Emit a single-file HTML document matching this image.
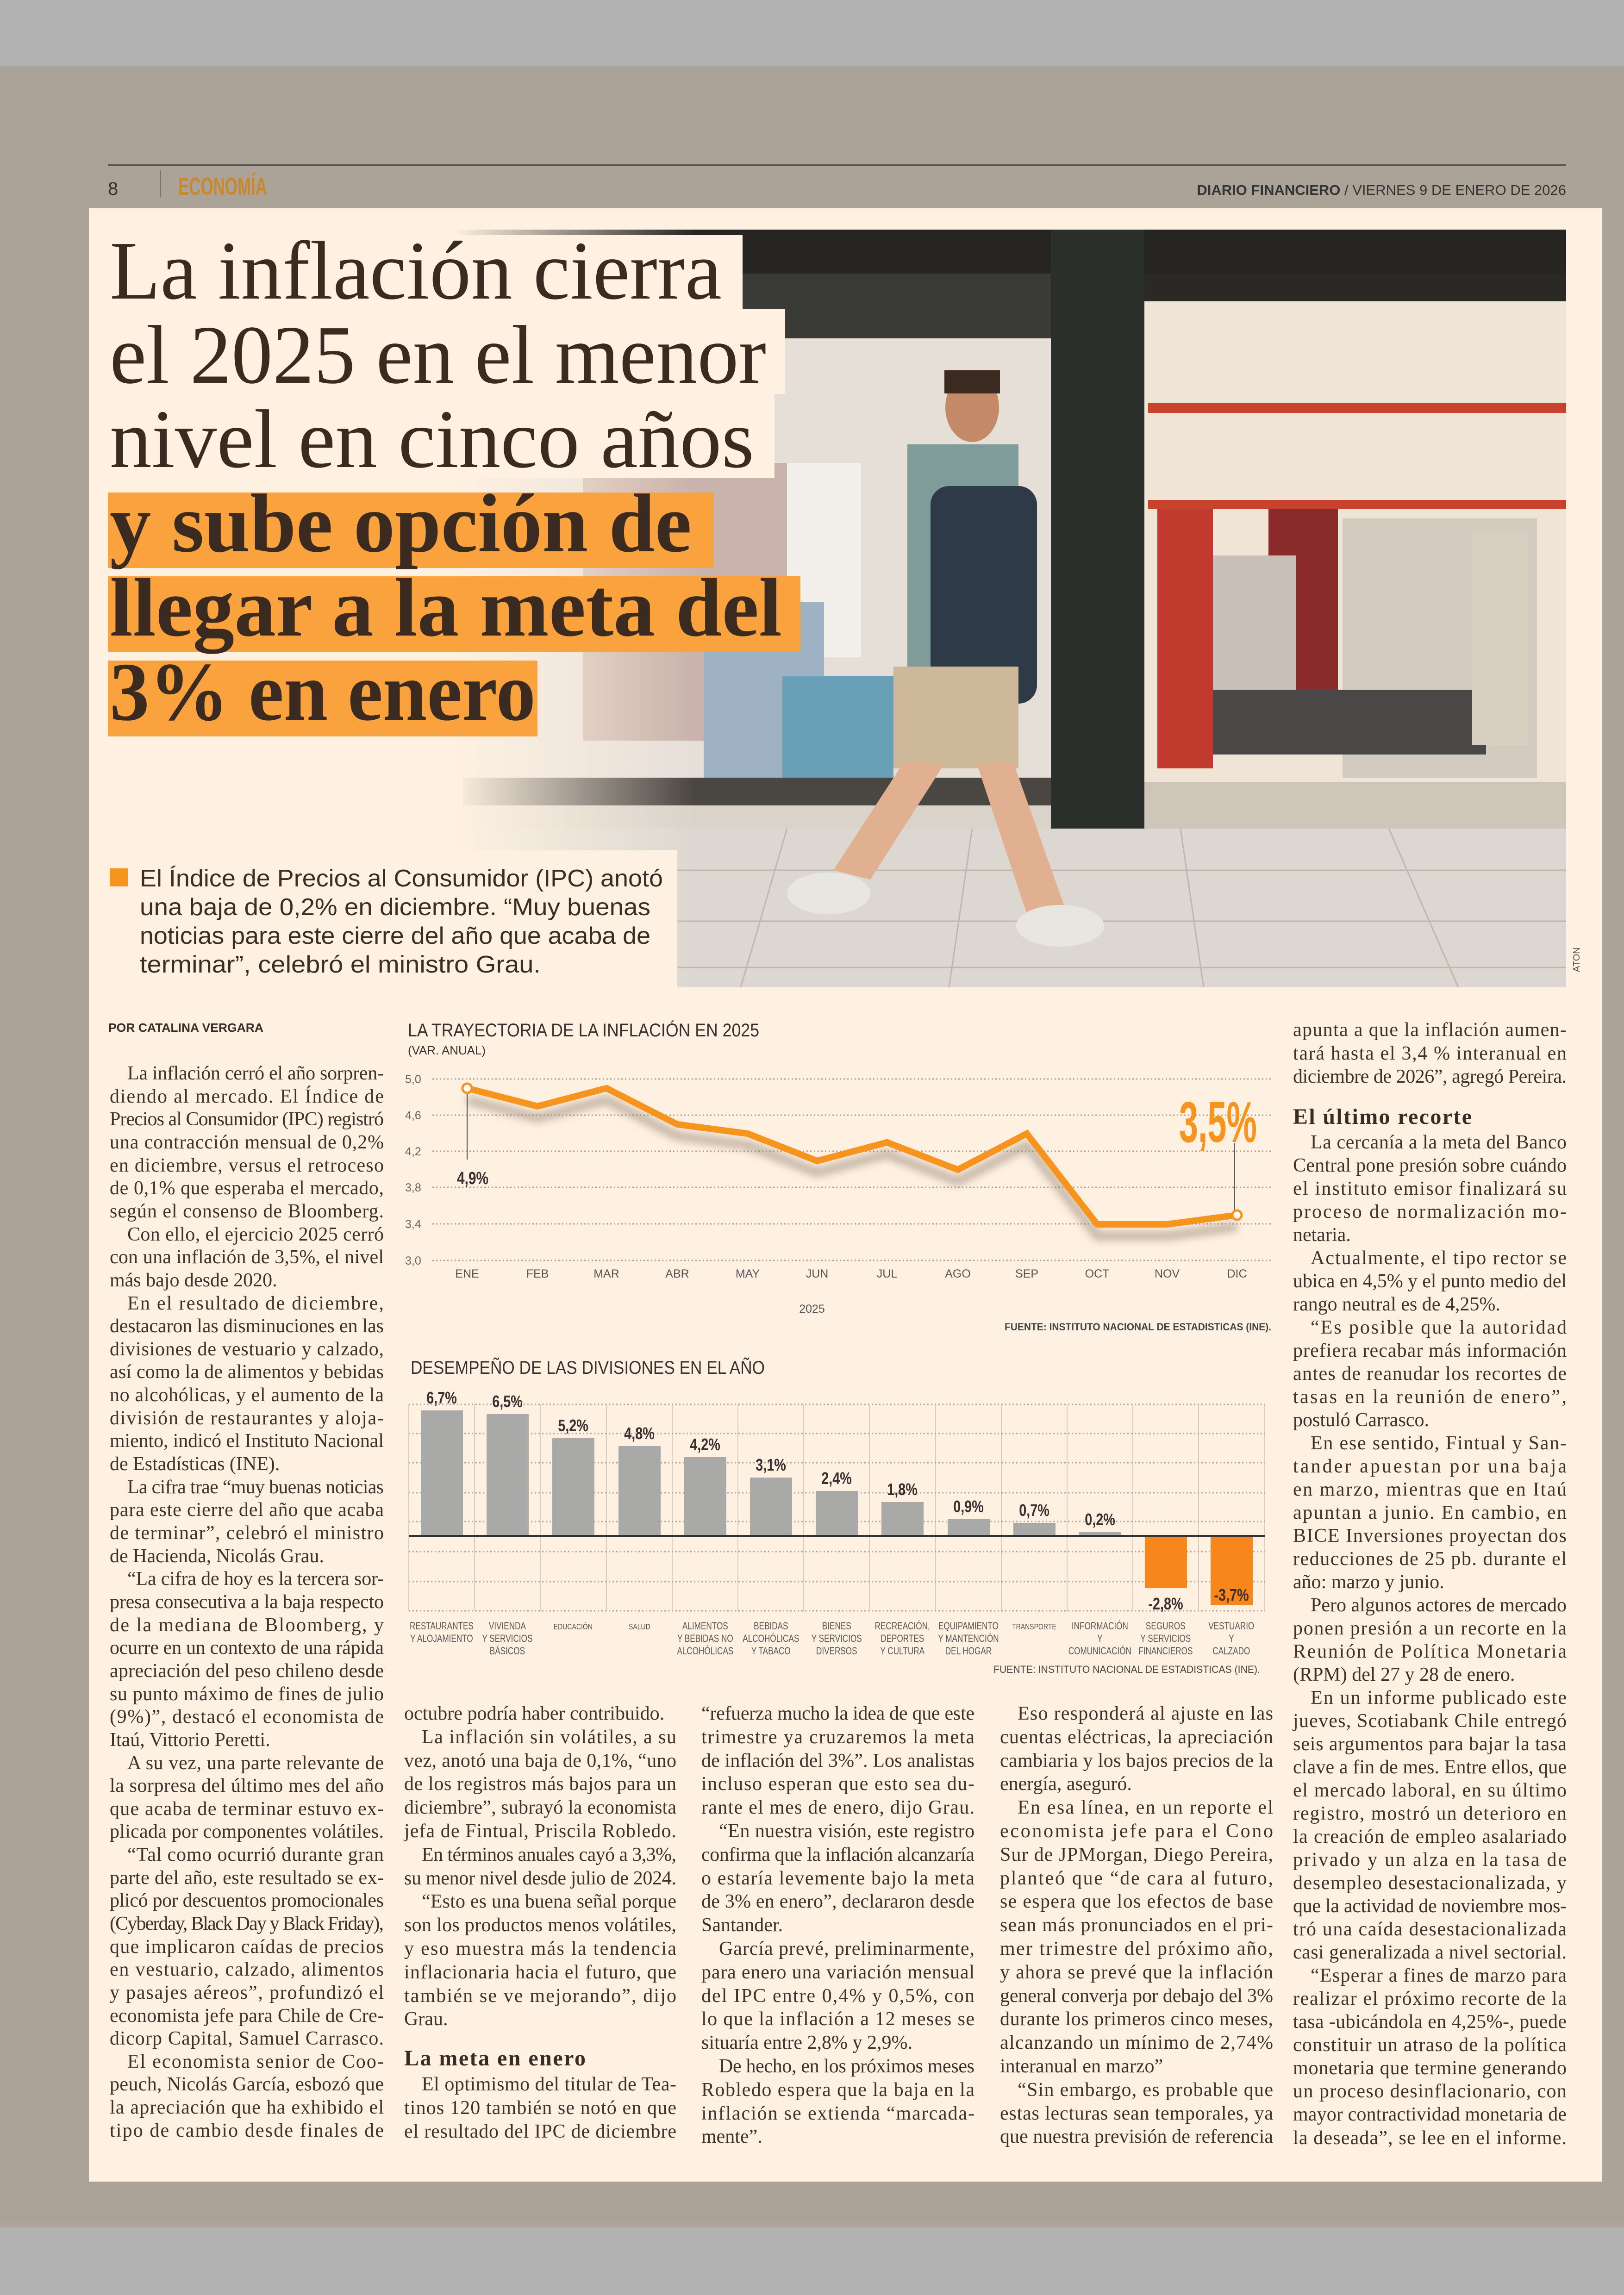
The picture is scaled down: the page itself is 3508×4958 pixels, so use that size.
<!DOCTYPE html>
<html><head><meta charset="utf-8">
<style>
html,body{margin:0;padding:0;background:#b3b3b3;}
svg{display:block}
.b{font-family:"Liberation Serif",serif;font-size:42px;fill:#3d322c}
.h{font-family:"Liberation Serif",serif;font-size:48px;font-weight:bold;fill:#3a2c24}
.n{font-family:"Liberation Sans Narrow","Liberation Sans",sans-serif}
</style></head><body>
<svg width="3508" height="4958" viewBox="0 0 3508 4958" xmlns="http://www.w3.org/2000/svg">
<defs>
<linearGradient id="fadeL" x1="0" x2="1" y1="0" y2="0">
<stop offset="0" stop-color="#fef1e2" stop-opacity="1"/>
<stop offset="1" stop-color="#fef1e2" stop-opacity="0"/>
</linearGradient>
<filter id="blur" x="-10%" y="-30%" width="120%" height="160%"><feGaussianBlur stdDeviation="9"/></filter>
</defs>
<rect x="0" y="0" width="3508" height="4958" fill="#b3b3b3"/>
<rect x="0" y="142" width="3508" height="4670" fill="#aca398"/>
<rect x="0" y="4800" width="3508" height="12" fill="#b0a2a0"/>
<rect x="192" y="449" width="3269" height="4264" fill="#fef1e2"/>

<!-- header -->
<rect x="233" y="355" width="3150" height="4" fill="#5a5550"/>
<text x="233" y="421" class="n" font-size="40" fill="#333">8</text>
<rect x="346" y="368" width="2" height="58" fill="#777"/>
<text x="385" y="421" class="n" font-size="54" font-weight="bold" fill="#c8882e" textLength="192" lengthAdjust="spacingAndGlyphs">ECONOMÍA</text>
<text x="3383" y="421" class="n" font-size="31" fill="#333" text-anchor="end"><tspan font-weight="bold">DIARIO FINANCIERO</tspan> / VIERNES 9 DE ENERO DE 2026</text>

<!-- photo -->
<g>
<rect x="980" y="496" width="2403" height="1637" fill="#d9d3ca"/>
<rect x="980" y="496" width="2403" height="95" fill="#262522"/>
<rect x="1000" y="591" width="1270" height="1110" fill="#e6dfd8"/>
<rect x="1000" y="591" width="1270" height="140" fill="#3a3a36"/>
<rect x="1260" y="1000" width="500" height="600" fill="#c9b3ac"/>
<rect x="1700" y="1000" width="160" height="420" fill="#f2efea"/>
<rect x="1520" y="1300" width="260" height="380" fill="#9fb2c4"/>
<rect x="1690" y="1460" width="240" height="240" fill="#6a9fb8"/>
<rect x="1000" y="1680" width="1270" height="60" fill="#4a4642"/>
<rect x="2270" y="496" width="202" height="1310" fill="#2b2f2b"/>
<rect x="2472" y="591" width="911" height="1200" fill="#efe4d6"/>
<rect x="2472" y="591" width="911" height="60" fill="#2a2926"/>
<rect x="2480" y="870" width="903" height="22" fill="#c8432d"/>
<rect x="2480" y="1080" width="903" height="20" fill="#c8432d"/>
<rect x="2740" y="1100" width="150" height="500" fill="#8a2a2a"/>
<rect x="2900" y="1120" width="420" height="560" fill="#d4cbc0"/>
<rect x="2520" y="1200" width="280" height="300" fill="#c8c0b8"/>
<rect x="2560" y="1490" width="650" height="140" fill="#4a4846"/>
<rect x="2500" y="1100" width="120" height="560" fill="#c23a2e"/>
<rect x="3180" y="1150" width="120" height="460" fill="#d8cfc0"/>
<rect x="2472" y="1690" width="911" height="110" fill="#cfc6ba"/>
<rect x="980" y="1790" width="2403" height="343" fill="#dcd8d1"/>
<g stroke="#bdb7ae" stroke-width="3">
<line x1="980" y1="1880" x2="3383" y2="1880"/><line x1="980" y1="1990" x2="3383" y2="1990"/><line x1="980" y1="2090" x2="3383" y2="2090"/>
<line x1="1700" y1="1790" x2="1600" y2="2133"/><line x1="2100" y1="1790" x2="2050" y2="2133"/><line x1="2550" y1="1790" x2="2600" y2="2133"/><line x1="3000" y1="1790" x2="3150" y2="2133"/>
</g>
<ellipse cx="2100" cy="880" rx="58" ry="75" fill="#c48a68"/>
<rect x="2040" y="800" width="120" height="50" fill="#3a2a20"/>
<rect x="1960" y="960" width="240" height="500" fill="#7f9c9a"/>
<rect x="2010" y="1050" width="230" height="470" rx="40" fill="#2e3a48"/>
<rect x="1930" y="1440" width="270" height="220" fill="#cdb99a"/>
<polygon points="1950,1650 2040,1650 1880,1900 1800,1880" fill="#e0b090"/>
<polygon points="2110,1650 2190,1650 2300,1960 2220,1980" fill="#e0b090"/>
<ellipse cx="1790" cy="1930" rx="90" ry="45" fill="#e8e6e0"/>
<ellipse cx="2290" cy="2000" rx="95" ry="45" fill="#e8e6e0"/>
<rect x="980" y="496" width="520" height="1637" fill="url(#fadeL)"/>
<text transform="translate(3412,2100) rotate(-90)" class="n" font-size="20" fill="#555">ATON</text>
</g>

<!-- headline -->
<rect x="192" y="508" width="1412" height="159" fill="#fef1e2"/>
<rect x="192" y="667" width="1504" height="184" fill="#fef1e2"/>
<rect x="192" y="851" width="1481" height="182" fill="#fef1e2"/>
<rect x="192" y="1033" width="800" height="31" fill="#fef1e2"/>
<rect x="233" y="1064" width="1308" height="163" fill="#f9a23e"/>
<rect x="233" y="1245" width="1496" height="164" fill="#f9a23e"/>
<rect x="233" y="1427" width="928" height="164" fill="#f9a23e"/>
<g font-family="Liberation Serif,serif" font-size="180" fill="#3a2a20">
<text x="237" y="645" textLength="1322" lengthAdjust="spacingAndGlyphs">La inflación cierra</text>
<text x="237" y="827" textLength="1418" lengthAdjust="spacingAndGlyphs">el 2025 en el menor</text>
<text x="237" y="1009" textLength="1392" lengthAdjust="spacingAndGlyphs">nivel en cinco años</text>
<g font-weight="bold">
<text x="237" y="1191" textLength="1257" lengthAdjust="spacingAndGlyphs">y sube opción de</text>
<text x="237" y="1373" textLength="1452" lengthAdjust="spacingAndGlyphs">llegar a la meta del</text>
<text x="237" y="1555" textLength="920" lengthAdjust="spacingAndGlyphs">3% en enero</text>
</g></g>

<!-- subhead -->
<rect x="192" y="1837" width="1271" height="296" fill="#fef1e2"/>
<rect x="237" y="1876" width="39" height="39" fill="#f7941d"/>
<g class="n" font-size="52" fill="#3a2d26">
<text x="302" y="1915" textLength="1130" lengthAdjust="spacingAndGlyphs">El Índice de Precios al Consumidor (IPC) anotó</text>
<text x="302" y="1977" textLength="1103" lengthAdjust="spacingAndGlyphs">una baja de 0,2% en diciembre. “Muy buenas</text>
<text x="302" y="2039" textLength="1103" lengthAdjust="spacingAndGlyphs">noticias para este cierre del año que acaba de</text>
<text x="302" y="2101" textLength="866" lengthAdjust="spacingAndGlyphs">terminar”, celebró el ministro Grau.</text>
</g>

<text x="234" y="2229" class="n" font-size="26" font-weight="bold" fill="#3a2d26" textLength="335" lengthAdjust="spacingAndGlyphs">POR CATALINA VERGARA</text>

<!-- column 1 -->
<g class="b">
<text x="275" y="2332" textLength="554">La inflación cerró el año sorpren-</text>
<text x="237" y="2382" textLength="592">diendo al mercado. El Índice de</text>
<text x="237" y="2431" textLength="592">Precios al Consumidor (IPC) registró</text>
<text x="237" y="2481" textLength="592">una contracción mensual de 0,2%</text>
<text x="237" y="2531" textLength="592">en diciembre, versus el retroceso</text>
<text x="237" y="2580" textLength="592">de 0,1% que esperaba el mercado,</text>
<text x="237" y="2630" textLength="592">según el consenso de Bloomberg.</text>
<text x="275" y="2680" textLength="554">Con ello, el ejercicio 2025 cerró</text>
<text x="237" y="2729" textLength="592">con una inflación de 3,5%, el nivel</text>
<text x="237" y="2779">más bajo desde 2020.</text>
<text x="275" y="2829" textLength="554">En el resultado de diciembre,</text>
<text x="237" y="2878" textLength="592">destacaron las disminuciones en las</text>
<text x="237" y="2928" textLength="592">divisiones de vestuario y calzado,</text>
<text x="237" y="2977" textLength="592">así como la de alimentos y bebidas</text>
<text x="237" y="3027" textLength="592">no alcohólicas, y el aumento de la</text>
<text x="237" y="3077" textLength="592">división de restaurantes y aloja-</text>
<text x="237" y="3126" textLength="592">miento, indicó el Instituto Nacional</text>
<text x="237" y="3176">de Estadísticas (INE).</text>
<text x="275" y="3226" textLength="554">La cifra trae “muy buenas noticias</text>
<text x="237" y="3275" textLength="592">para este cierre del año que acaba</text>
<text x="237" y="3325" textLength="592">de terminar”, celebró el ministro</text>
<text x="237" y="3375">de Hacienda, Nicolás Grau.</text>
<text x="275" y="3424" textLength="554">“La cifra de hoy es la tercera sor-</text>
<text x="237" y="3474" textLength="592">presa consecutiva a la baja respecto</text>
<text x="237" y="3524" textLength="592">de la mediana de Bloomberg, y</text>
<text x="237" y="3573" textLength="592">ocurre en un contexto de una rápida</text>
<text x="237" y="3623" textLength="592">apreciación del peso chileno desde</text>
<text x="237" y="3673" textLength="592">su punto máximo de fines de julio</text>
<text x="237" y="3722" textLength="592">(9%)”, destacó el economista de</text>
<text x="237" y="3772">Itaú, Vittorio Peretti.</text>
<text x="275" y="3822" textLength="554">A su vez, una parte relevante de</text>
<text x="237" y="3871" textLength="592">la sorpresa del último mes del año</text>
<text x="237" y="3921" textLength="592">que acaba de terminar estuvo ex-</text>
<text x="237" y="3970" textLength="592">plicada por componentes volátiles.</text>
<text x="275" y="4020" textLength="554">“Tal como ocurrió durante gran</text>
<text x="237" y="4070" textLength="592">parte del año, este resultado se ex-</text>
<text x="237" y="4119" textLength="592">plicó por descuentos promocionales</text>
<text x="237" y="4169" textLength="592">(Cyberday, Black Day y Black Friday),</text>
<text x="237" y="4219" textLength="592">que implicaron caídas de precios</text>
<text x="237" y="4268" textLength="592">en vestuario, calzado, alimentos</text>
<text x="237" y="4318" textLength="592">y pasajes aéreos”, profundizó el</text>
<text x="237" y="4368" textLength="592">economista jefe para Chile de Cre-</text>
<text x="237" y="4417" textLength="592">dicorp Capital, Samuel Carrasco.</text>
<text x="275" y="4467" textLength="554">El economista senior de Coo-</text>
<text x="237" y="4516" textLength="592">peuch, Nicolás García, esbozó que</text>
<text x="237" y="4566" textLength="592">la apreciación que ha exhibido el</text>
<text x="237" y="4616" textLength="592">tipo de cambio desde finales de</text>
</g>

<!-- column 2 -->
<g class="b">
<text x="873" y="3715">octubre podría haber contribuido.</text>
<text x="911" y="3766" textLength="550">La inflación sin volátiles, a su</text>
<text x="873" y="3817" textLength="588">vez, anotó una baja de 0,1%, “uno</text>
<text x="873" y="3867" textLength="588">de los registros más bajos para un</text>
<text x="873" y="3918" textLength="588">diciembre”, subrayó la economista</text>
<text x="873" y="3969" textLength="588">jefa de Fintual, Priscila Robledo.</text>
<text x="911" y="4020" textLength="550">En términos anuales cayó a 3,3%,</text>
<text x="873" y="4071" textLength="588">su menor nivel desde julio de 2024.</text>
<text x="911" y="4121" textLength="550">“Esto es una buena señal porque</text>
<text x="873" y="4172" textLength="588">son los productos menos volátiles,</text>
<text x="873" y="4223" textLength="588">y eso muestra más la tendencia</text>
<text x="873" y="4274" textLength="588">inflacionaria hacia el futuro, que</text>
<text x="873" y="4325" textLength="588">también se ve mejorando”, dijo</text>
<text x="873" y="4375">Grau.</text>
<text x="873" y="4462" class="h" textLength="392">La meta en enero</text>
<text x="911" y="4516" textLength="550">El optimismo del titular de Tea-</text>
<text x="873" y="4567" textLength="588">tinos 120 también se notó en que</text>
<text x="873" y="4618" textLength="588">el resultado del IPC de diciembre</text>
</g>

<!-- column 3 -->
<g class="b">
<text x="1515" y="3715" textLength="590">“refuerza mucho la idea de que este</text>
<text x="1515" y="3766" textLength="590">trimestre ya cruzaremos la meta</text>
<text x="1515" y="3817" textLength="590">de inflación del 3%”. Los analistas</text>
<text x="1515" y="3867" textLength="590">incluso esperan que esto sea du-</text>
<text x="1515" y="3918" textLength="590">rante el mes de enero, dijo Grau.</text>
<text x="1553" y="3969" textLength="552">“En nuestra visión, este registro</text>
<text x="1515" y="4020" textLength="590">confirma que la inflación alcanzaría</text>
<text x="1515" y="4071" textLength="590">o estaría levemente bajo la meta</text>
<text x="1515" y="4121" textLength="590">de 3% en enero”, declararon desde</text>
<text x="1515" y="4172">Santander.</text>
<text x="1553" y="4223" textLength="552">García prevé, preliminarmente,</text>
<text x="1515" y="4274" textLength="590">para enero una variación mensual</text>
<text x="1515" y="4325" textLength="590">del IPC entre 0,4% y 0,5%, con</text>
<text x="1515" y="4375" textLength="590">lo que la inflación a 12 meses se</text>
<text x="1515" y="4426">situaría entre 2,8% y 2,9%.</text>
<text x="1553" y="4477" textLength="552">De hecho, en los próximos meses</text>
<text x="1515" y="4528" textLength="590">Robledo espera que la baja en la</text>
<text x="1515" y="4579" textLength="590">inflación se extienda “marcada-</text>
<text x="1515" y="4629">mente”.</text>
</g>

<!-- column 4 -->
<g class="b">
<text x="2198" y="3715" textLength="552">Eso responderá al ajuste en las</text>
<text x="2160" y="3766" textLength="590">cuentas eléctricas, la apreciación</text>
<text x="2160" y="3817" textLength="590">cambiaria y los bajos precios de la</text>
<text x="2160" y="3867">energía, aseguró.</text>
<text x="2198" y="3918" textLength="552">En esa línea, en un reporte el</text>
<text x="2160" y="3969" textLength="590">economista jefe para el Cono</text>
<text x="2160" y="4020" textLength="590">Sur de JPMorgan, Diego Pereira,</text>
<text x="2160" y="4071" textLength="590">planteó que “de cara al futuro,</text>
<text x="2160" y="4121" textLength="590">se espera que los efectos de base</text>
<text x="2160" y="4172" textLength="590">sean más pronunciados en el pri-</text>
<text x="2160" y="4223" textLength="590">mer trimestre del próximo año,</text>
<text x="2160" y="4274" textLength="590">y ahora se prevé que la inflación</text>
<text x="2160" y="4325" textLength="590">general converja por debajo del 3%</text>
<text x="2160" y="4375" textLength="590">durante los primeros cinco meses,</text>
<text x="2160" y="4426" textLength="590">alcanzando un mínimo de 2,74%</text>
<text x="2160" y="4477">interanual en marzo”</text>
<text x="2198" y="4528" textLength="552">“Sin embargo, es probable que</text>
<text x="2160" y="4579" textLength="590">estas lecturas sean temporales, ya</text>
<text x="2160" y="4629" textLength="590">que nuestra previsión de referencia</text>
</g>

<!-- column 5 -->
<g class="b">
<text x="2793" y="2238" textLength="591">apunta a que la inflación aumen-</text>
<text x="2793" y="2289" textLength="591">tará hasta el 3,4 % interanual en</text>
<text x="2793" y="2339" textLength="591">diciembre de 2026”, agregó Pereira.</text>
<text x="2793" y="2428" class="h" textLength="386">El último recorte</text>
<text x="2831" y="2481" textLength="553">La cercanía a la meta del Banco</text>
<text x="2793" y="2531" textLength="591">Central pone presión sobre cuándo</text>
<text x="2793" y="2581" textLength="591">el instituto emisor finalizará su</text>
<text x="2793" y="2631" textLength="591">proceso de normalización mo-</text>
<text x="2793" y="2681">netaria.</text>
<text x="2831" y="2731" textLength="553">Actualmente, el tipo rector se</text>
<text x="2793" y="2781" textLength="591">ubica en 4,5% y el punto medio del</text>
<text x="2793" y="2831">rango neutral es de 4,25%.</text>
<text x="2831" y="2881" textLength="553">“Es posible que la autoridad</text>
<text x="2793" y="2931" textLength="591">prefiera recabar más información</text>
<text x="2793" y="2981" textLength="591">antes de reanudar los recortes de</text>
<text x="2793" y="3031" textLength="591">tasas en la reunión de enero”,</text>
<text x="2793" y="3081">postuló Carrasco.</text>
<text x="2831" y="3131" textLength="553">En ese sentido, Fintual y San-</text>
<text x="2793" y="3181" textLength="591">tander apuestan por una baja</text>
<text x="2793" y="3231" textLength="591">en marzo, mientras que en Itaú</text>
<text x="2793" y="3281" textLength="591">apuntan a junio. En cambio, en</text>
<text x="2793" y="3331" textLength="591">BICE Inversiones proyectan dos</text>
<text x="2793" y="3381" textLength="591">reducciones de 25 pb. durante el</text>
<text x="2793" y="3431">año: marzo y junio.</text>
<text x="2831" y="3481" textLength="553">Pero algunos actores de mercado</text>
<text x="2793" y="3531" textLength="591">ponen presión a un recorte en la</text>
<text x="2793" y="3581" textLength="591">Reunión de Política Monetaria</text>
<text x="2793" y="3631">(RPM) del 27 y 28 de enero.</text>
<text x="2831" y="3681" textLength="553">En un informe publicado este</text>
<text x="2793" y="3731" textLength="591">jueves, Scotiabank Chile entregó</text>
<text x="2793" y="3781" textLength="591">seis argumentos para bajar la tasa</text>
<text x="2793" y="3831" textLength="591">clave a fin de mes. Entre ellos, que</text>
<text x="2793" y="3881" textLength="591">el mercado laboral, en su último</text>
<text x="2793" y="3931" textLength="591">registro, mostró un deterioro en</text>
<text x="2793" y="3981" textLength="591">la creación de empleo asalariado</text>
<text x="2793" y="4031" textLength="591">privado y un alza en la tasa de</text>
<text x="2793" y="4081" textLength="591">desempleo desestacionalizada, y</text>
<text x="2793" y="4131" textLength="591">que la actividad de noviembre mos-</text>
<text x="2793" y="4181" textLength="591">tró una caída desestacionalizada</text>
<text x="2793" y="4231" textLength="591">casi generalizada a nivel sectorial.</text>
<text x="2831" y="4281" textLength="553">“Esperar a fines de marzo para</text>
<text x="2793" y="4331" textLength="591">realizar el próximo recorte de la</text>
<text x="2793" y="4381" textLength="591">tasa -ubicándola en 4,25%-, puede</text>
<text x="2793" y="4431" textLength="591">constituir un atraso de la política</text>
<text x="2793" y="4481" textLength="591">monetaria que termine generando</text>
<text x="2793" y="4531" textLength="591">un proceso desinflacionario, con</text>
<text x="2793" y="4581" textLength="591">mayor contractividad monetaria de</text>
<text x="2793" y="4632" textLength="591">la deseada”, se lee en el informe.</text>
</g>

<!-- chart 1 -->
<g class="n">
<text x="881" y="2239" font-size="40" fill="#3a3030" textLength="759" lengthAdjust="spacingAndGlyphs">LA TRAYECTORIA DE LA INFLACIÓN EN 2025</text>
<text x="881" y="2278" font-size="26" fill="#3a3030" textLength="168" lengthAdjust="spacingAndGlyphs">(VAR. ANUAL)</text>
<g stroke="#a9a198" stroke-width="3" stroke-dasharray="3,5">
<line x1="934" y1="2331" x2="2750" y2="2331"/><line x1="934" y1="2409" x2="2750" y2="2409"/>
<line x1="934" y1="2487" x2="2750" y2="2487"/><line x1="934" y1="2565" x2="2750" y2="2565"/>
<line x1="934" y1="2644" x2="2750" y2="2644"/><line x1="934" y1="2723" x2="2750" y2="2723"/>
</g>
<g font-size="25" fill="#666">
<text x="875" y="2340">5,0</text><text x="875" y="2418">4,6</text><text x="875" y="2496">4,2</text>
<text x="875" y="2574">3,8</text><text x="875" y="2653">3,4</text><text x="875" y="2732">3,0</text>
</g>
<g font-size="25" fill="#555" text-anchor="middle">
<text x="1009" y="2760">ENE</text><text x="1161" y="2760">FEB</text><text x="1310" y="2760">MAR</text>
<text x="1463" y="2760">ABR</text><text x="1615" y="2760">MAY</text><text x="1765" y="2760">JUN</text>
<text x="1916" y="2760">JUL</text><text x="2069" y="2760">AGO</text><text x="2218" y="2760">SEP</text>
<text x="2370" y="2760">OCT</text><text x="2521" y="2760">NOV</text><text x="2672" y="2760">DIC</text>
<text x="1754" y="2836">2025</text>
</g>
<polyline points="1009,2376 1161,2415 1310,2376 1463,2454 1615,2474 1765,2533 1916,2493 2069,2552 2218,2474 2370,2670 2521,2670 2672,2650" fill="none" stroke="#8a7a6a" stroke-opacity="0.55" stroke-width="18" filter="url(#blur)"/>
<polyline points="1009,2351 1161,2390 1310,2351 1463,2429 1615,2449 1765,2508 1916,2468 2069,2527 2218,2449 2370,2645 2521,2645 2672,2625" fill="none" stroke="#f7941d" stroke-width="14" stroke-linejoin="miter"/>
<line x1="1009" y1="2360" x2="1009" y2="2505" stroke="#444" stroke-width="2"/>
<line x1="2666" y1="2469" x2="2666" y2="2615" stroke="#444" stroke-width="2"/>
<circle cx="1009" cy="2351" r="10" fill="#fff" stroke="#f7941d" stroke-width="5"/>
<circle cx="2672" cy="2625" r="10" fill="#fff" stroke="#f7941d" stroke-width="5"/>
<text x="987" y="2558" font-size="38" font-weight="bold" fill="#3a3030" textLength="68" lengthAdjust="spacingAndGlyphs">4,9%</text>
<text x="2547" y="2467" font-size="124" font-weight="bold" fill="#f7941d" textLength="168" lengthAdjust="spacingAndGlyphs">3,5%</text>
<text x="2746" y="2874" font-size="22" font-weight="bold" fill="#444" text-anchor="end" textLength="576" lengthAdjust="spacingAndGlyphs">FUENTE: INSTITUTO NACIONAL DE ESTADISTICAS (INE).</text>
</g>

<!-- chart 2 -->
<g class="n">
<text x="887" y="2968" font-size="40" fill="#3a3030" textLength="765" lengthAdjust="spacingAndGlyphs">DESEMPEÑO DE LAS DIVISIONES EN EL AÑO</text>
<g stroke="#d6cdc2" stroke-width="2">
<line x1="883" y1="3034" x2="883" y2="3480"/><line x1="1025" y1="3034" x2="1025" y2="3480"/>
<line x1="1167" y1="3034" x2="1167" y2="3480"/><line x1="1310" y1="3034" x2="1310" y2="3480"/>
<line x1="1452" y1="3034" x2="1452" y2="3480"/><line x1="1594" y1="3034" x2="1594" y2="3480"/>
<line x1="1736" y1="3034" x2="1736" y2="3480"/><line x1="1878" y1="3034" x2="1878" y2="3480"/>
<line x1="2021" y1="3034" x2="2021" y2="3480"/><line x1="2163" y1="3034" x2="2163" y2="3480"/>
<line x1="2305" y1="3034" x2="2305" y2="3480"/><line x1="2447" y1="3034" x2="2447" y2="3480"/>
<line x1="2589" y1="3034" x2="2589" y2="3480"/><line x1="2732" y1="3034" x2="2732" y2="3480"/>
</g>
<g stroke="#b0a89e" stroke-width="3" stroke-dasharray="3,5">
<line x1="883" y1="3034" x2="2732" y2="3034"/><line x1="883" y1="3097" x2="2732" y2="3097"/>
<line x1="883" y1="3160" x2="2732" y2="3160"/><line x1="883" y1="3225" x2="2732" y2="3225"/>
<line x1="883" y1="3287" x2="2732" y2="3287"/><line x1="883" y1="3352" x2="2732" y2="3352"/>
<line x1="883" y1="3417" x2="2732" y2="3417"/><line x1="883" y1="3480" x2="2732" y2="3480"/>
</g>
<g fill="#a9a9a7">
<rect x="909" y="3047" width="91" height="271"/><rect x="1051" y="3055" width="91" height="263"/>
<rect x="1193" y="3107" width="91" height="211"/><rect x="1336" y="3124" width="91" height="194"/>
<rect x="1478" y="3148" width="91" height="170"/><rect x="1620" y="3192" width="91" height="126"/>
<rect x="1762" y="3221" width="91" height="97"/><rect x="1904" y="3245" width="91" height="73"/>
<rect x="2047" y="3282" width="91" height="36"/><rect x="2189" y="3290" width="91" height="28"/>
<rect x="2331" y="3310" width="91" height="8"/>
</g>
<rect x="2473" y="3318" width="91" height="113" fill="#f7861d"/>
<rect x="2615" y="3318" width="91" height="150" fill="#f7861d"/>
<line x1="883" y1="3318" x2="2732" y2="3318" stroke="#333" stroke-width="4"/>
<g transform="scale(0.8 1)" font-size="36" font-weight="bold" fill="#3a3030" text-anchor="middle">
<text x="1192.5" y="3032">6,7%</text><text x="1370" y="3040">6,5%</text><text x="1547.5" y="3092">5,2%</text>
<text x="1726.25" y="3109">4,8%</text><text x="1903.75" y="3133">4,2%</text><text x="2081.25" y="3177">3,1%</text>
<text x="2258.75" y="3206">2,4%</text><text x="2436.25" y="3230">1,8%</text><text x="2615" y="3267">0,9%</text>
<text x="2792.5" y="3275">0,7%</text><text x="2970" y="3295">0,2%</text>
<text x="3147.5" y="3477">-2,8%</text><text x="3325" y="3458">-3,7%</text>
</g>
<g transform="scale(0.78 1)" font-size="22" fill="#555" text-anchor="middle">
<text x="1223" y="3520">RESTAURANTES</text><text x="1223" y="3547">Y ALOJAMIENTO</text>
<text x="1405" y="3520">VIVIENDA</text><text x="1405" y="3547">Y SERVICIOS</text><text x="1405" y="3574">BÁSICOS</text>
<text x="1587" y="3520" font-size="18">EDUCACIÓN</text>
<text x="1771" y="3520" font-size="18">SALUD</text>
<text x="1953" y="3520">ALIMENTOS</text><text x="1953" y="3547">Y BEBIDAS NO</text><text x="1953" y="3574">ALCOHÓLICAS</text>
<text x="2135" y="3520">BEBIDAS</text><text x="2135" y="3547">ALCOHÓLICAS</text><text x="2135" y="3574">Y TABACO</text>
<text x="2317" y="3520">BIENES</text><text x="2317" y="3547">Y SERVICIOS</text><text x="2317" y="3574">DIVERSOS</text>
<text x="2499" y="3520">RECREACIÓN,</text><text x="2499" y="3547">DEPORTES</text><text x="2499" y="3574">Y CULTURA</text>
<text x="2682" y="3520">EQUIPAMIENTO</text><text x="2682" y="3547">Y MANTENCIÓN</text><text x="2682" y="3574">DEL HOGAR</text>
<text x="2864" y="3520" font-size="18">TRANSPORTE</text>
<text x="3046" y="3520">INFORMACIÓN</text><text x="3046" y="3547">Y</text><text x="3046" y="3574">COMUNICACIÓN</text>
<text x="3228" y="3520">SEGUROS</text><text x="3228" y="3547">Y SERVICIOS</text><text x="3228" y="3574">FINANCIEROS</text>
<text x="3410" y="3520">VESTUARIO</text><text x="3410" y="3547">Y</text><text x="3410" y="3574">CALZADO</text>
</g>
<text x="2722" y="3614" font-size="22" fill="#444" text-anchor="end" textLength="576" lengthAdjust="spacingAndGlyphs">FUENTE: INSTITUTO NACIONAL DE ESTADISTICAS (INE).</text>
</g>
</svg>
</body></html>
